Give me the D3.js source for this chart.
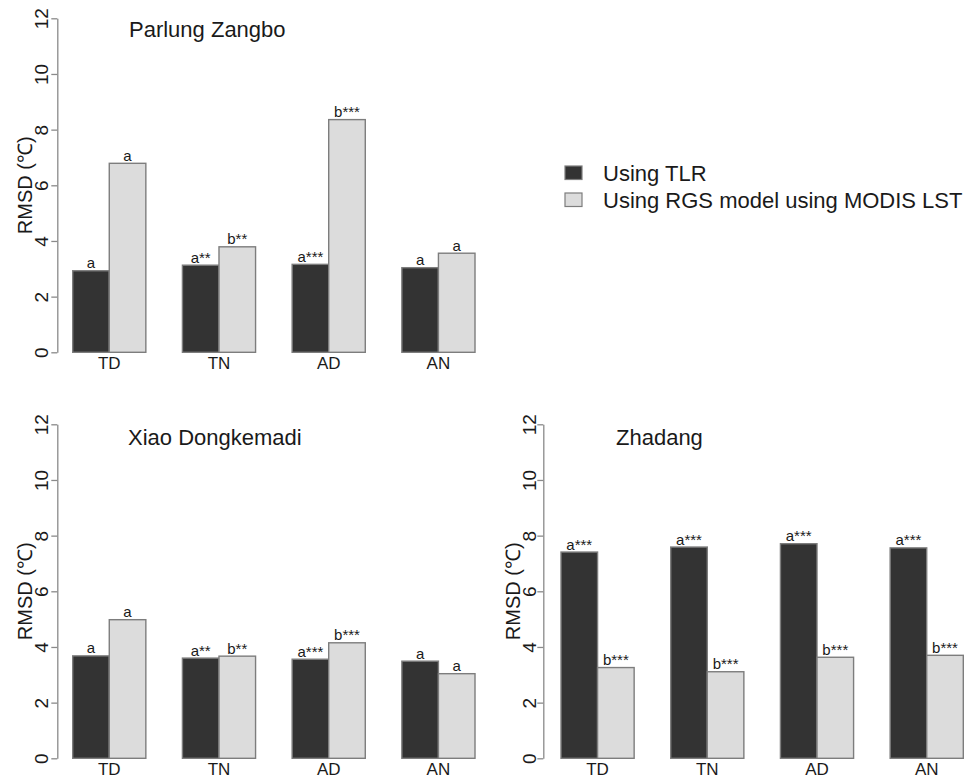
<!DOCTYPE html>
<html>
<head>
<meta charset="utf-8">
<script src="https://cdn.jsdelivr.net/npm/d3@7"></script>
<style>
  html, body { margin: 0; padding: 0; background: #ffffff; }
  svg { display: block; font-family: "Liberation Sans", Arial, Helvetica, sans-serif; }
</style>
</head>
<body>
<svg id="chart" width="973" height="778"></svg>
<script>
// Categories and series
const categories = ["TD", "TN", "AD", "AN"];
const seriesNames = ["Using TLR", "Using RGS model using MODIS LST"];
const yTicks = [0, 2, 4, 6, 8, 10, 12];

// RMSD (°C) per site
const parlungTLR = [2.93, 3.13, 3.16, 3.04];
const parlungRGS = [6.79, 3.79, 8.36, 3.56];
const parlungTLRLabels = ["a", "a**", "a***", "a"];
const parlungRGSLabels = ["a", "b**", "b***", "a"];

const xiaoTLR = [3.68, 3.60, 3.56, 3.49];
const xiaoRGS = [4.98, 3.67, 4.15, 3.04];
const xiaoTLRLabels = ["a", "a**", "a***", "a"];
const xiaoRGSLabels = ["a", "b**", "b***", "a"];

const zhadangTLR = [7.41, 7.59, 7.71, 7.56];
const zhadangRGS = [3.26, 3.11, 3.63, 3.70];
const zhadangTLRLabels = ["a***", "a***", "a***", "a***"];
const zhadangRGSLabels = ["b***", "b***", "b***", "b***"];

const fills = ["#333333", "#dcdcdc"];
const barStroke = "#7d7d7d";
const axisColor = "#8a8a8a";
const textColor = "#1a1a1a";

const svg = d3.select("#chart");

// Panel frames: axis x, y extent of the 0..12 axis, horizontal span of the bars, title anchor
const panels = [
  { title: "Parlung Zangbo", tlr: parlungTLR, rgs: parlungRGS, tlrLab: parlungTLRLabels, rgsLab: parlungRGSLabels,
    axisX: 57.3, yTop: 18.3, yBottom: 352.3, xStart: 72.7, xEnd: 475, titleX: 129, titleY: 37, ylabOff: 25, tickOff: 9 },
  { title: "Xiao Dongkemadi", tlr: xiaoTLR, rgs: xiaoRGS, tlrLab: xiaoTLRLabels, rgsLab: xiaoRGSLabels,
    axisX: 57.3, yTop: 424.3, yBottom: 758.3, xStart: 72.7, xEnd: 475, titleX: 128, titleY: 445, ylabOff: 25, tickOff: 9 },
  { title: "Zhadang", tlr: zhadangTLR, rgs: zhadangRGS, tlrLab: zhadangTLRLabels, rgsLab: zhadangRGSLabels,
    axisX: 543.3, yTop: 424.3, yBottom: 758.3, xStart: 561, xEnd: 963.3, titleX: 616, titleY: 445, ylabOff: 23, tickOff: 7 }
];

panels.forEach(p => {
  const g = svg.append("g");

  const y = d3.scaleLinear().domain([0, 12]).range([p.yBottom, p.yTop]);
  const x0 = d3.scaleBand().domain(categories).range([p.xStart, p.xEnd]).paddingInner(1 / 3).paddingOuter(0);
  const x1 = d3.scaleBand().domain([0, 1]).range([0, x0.bandwidth()]).padding(0);

  // y axis
  const axis = d3.axisLeft(y).tickValues(yTicks).tickSize(6).tickSizeOuter(0).tickFormat(d3.format("d"));
  const ax = g.append("g").attr("transform", `translate(${p.axisX},0)`).call(axis);
  ax.select(".domain").attr("stroke", axisColor).attr("stroke-width", 1.3);
  ax.selectAll(".tick line").attr("stroke", axisColor).attr("stroke-width", 1.3);
  ax.selectAll(".tick text")
    .attr("x", null).attr("dy", null)
    .attr("text-anchor", "middle")
    .attr("transform", `translate(${-p.tickOff},0) rotate(-90)`)
    .attr("fill", textColor)
    .style("font-size", "19px")
    .style("font-family", "'Liberation Sans', Arial, sans-serif");

  // y axis title
  g.append("text")
    .attr("transform", `translate(${p.axisX - p.ylabOff},${(p.yTop + p.yBottom) / 2}) rotate(-90)`)
    .attr("text-anchor", "middle")
    .attr("fill", textColor)
    .style("font-size", "20px")
    .text("RMSD (℃)");

  // panel title
  g.append("text")
    .attr("x", p.titleX).attr("y", p.titleY)
    .attr("fill", textColor)
    .style("font-size", "22px")
    .text(p.title);

  // bars
  const rows = categories.map((c, i) => ({
    cat: c,
    vals: [
      { s: 0, v: p.tlr[i], lab: p.tlrLab[i] },
      { s: 1, v: p.rgs[i], lab: p.rgsLab[i] }
    ]
  }));

  const grp = g.selectAll("g.grp").data(rows).join("g")
    .attr("class", "grp")
    .attr("transform", d => `translate(${x0(d.cat)},0)`);

  grp.selectAll("rect").data(d => d.vals).join("rect")
    .attr("x", d => x1(d.s))
    .attr("width", x1.bandwidth())
    .attr("y", d => y(d.v))
    .attr("height", d => y(0) - y(d.v))
    .attr("fill", d => fills[d.s])
    .attr("stroke", barStroke)
    .attr("stroke-width", 1.4);

  grp.selectAll("text.lab").data(d => d.vals).join("text")
    .attr("class", "lab")
    .attr("x", d => x1(d.s) + x1.bandwidth() / 2)
    .attr("y", d => y(d.v) - 2.5)
    .attr("text-anchor", "middle")
    .attr("fill", textColor)
    .style("font-size", "15px")
    .text(d => d.lab);

  // category labels
  g.selectAll("text.cat").data(categories).join("text")
    .attr("class", "cat")
    .attr("x", d => x0(d) + x0.bandwidth() / 2)
    .attr("y", p.yBottom + 16.5)
    .attr("text-anchor", "middle")
    .attr("fill", textColor)
    .style("font-size", "17px")
    .text(d => d);
});

// legend
const legend = svg.append("g").attr("transform", "translate(565,166)");
seriesNames.forEach((name, i) => {
  const row = legend.append("g").attr("transform", `translate(0,${i * 27})`);
  row.append("rect")
    .attr("width", 17).attr("height", 13.5)
    .attr("fill", fills[i])
    .attr("stroke", barStroke)
    .attr("stroke-width", 1.2);
  row.append("text")
    .attr("x", 38).attr("y", 14.5)
    .attr("fill", textColor)
    .style("font-size", "22px")
    .text(name);
});
</script>
</body>
</html>
